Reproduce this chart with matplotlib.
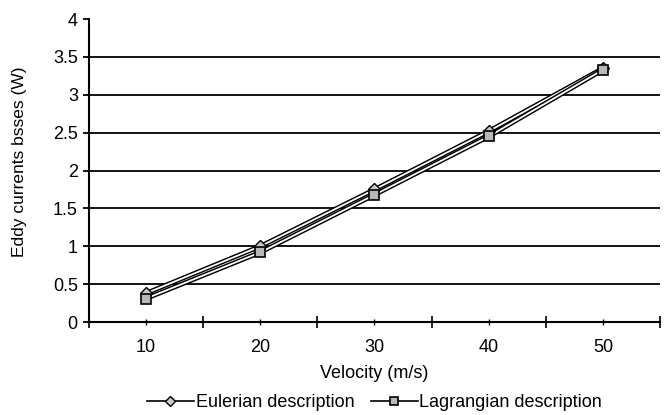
import numpy as np
import matplotlib.pyplot as plt
from matplotlib.lines import Line2D

plt.rcParams['font.family'] = ['Liberation Sans', 'DejaVu Sans']

# velocities (m/s) and eddy current losses (W)
velocity = ['10', '20', '30', '40', '50']
eulerian = [0.38, 1.00, 1.75, 2.52, 3.35]
lagrangian = [0.31, 0.92, 1.68, 2.45, 3.33]
y_ticks = [0, 0.5, 1, 1.5, 2, 2.5, 3, 3.5, 4]

fig = plt.figure(figsize=(6.64, 4.15), dpi=100)
ax = fig.add_axes([0.134, 0.224, 0.860, 0.730])

pos = np.arange(len(velocity))

# horizontal gridlines
for v in y_ticks[1:-1]:
    ax.axhline(v, color='black', linewidth=1.3, zorder=1)

# double-stroke lines: wide black line with a white line on top
for vals, z in [(eulerian, 3), (lagrangian, 4)]:
    ax.plot(pos, vals, color='black', linewidth=3.4, zorder=z,
            solid_capstyle='butt')
    ax.plot(pos, vals, color='white', linewidth=1.3, zorder=z,
            solid_capstyle='butt')

ax.plot(pos, eulerian, linestyle='none', marker='D', markersize=6,
        markerfacecolor='#c8c8c8', markeredgecolor='black',
        markeredgewidth=1, zorder=5)
ax.plot(pos, lagrangian, linestyle='none', marker='s', markersize=6.5,
        markerfacecolor='#b8b8b8', markeredgecolor='black',
        markeredgewidth=1.2, zorder=6)

ax.set_xlim(-0.5, len(velocity) - 0.5)
ax.set_ylim(0, 4)
ax.set_yticks(y_ticks)
ax.set_yticklabels(['0', '0.5', '1', '1.5', '2', '2.5', '3', '3.5', '4'])

# category ticks at centres, boundary ticks between them
ax.set_xticks(pos)
ax.set_xticklabels(velocity)
ax.set_xticks(np.arange(len(velocity) + 1) - 0.5, minor=True)
ax.tick_params(axis='x', which='major', direction='inout', length=5,
               width=1, labelsize=13, pad=10, colors='black')
ax.tick_params(axis='x', which='minor', direction='inout', length=8,
               width=1.2)
ax.tick_params(axis='y', direction='out', length=4, width=1.3,
               labelsize=13, pad=4)

for s in ['top', 'right']:
    ax.spines[s].set_visible(False)
for s in ['left', 'bottom']:
    ax.spines[s].set_linewidth(1.5)

ax.set_xlabel('Velocity (m/s)', fontsize=13, labelpad=6)
ax.set_ylabel('Eddy currents bsses (W)', fontsize=12.5)
ax.yaxis.set_label_coords(-0.108, 0.53)

handles = [
    Line2D([], [], color='black', linewidth=1.2, marker='D', markersize=5,
           markerfacecolor='#c8c8c8', markeredgecolor='black',
           markeredgewidth=1),
    Line2D([], [], color='black', linewidth=1.2, marker='s', markersize=5.5,
           markerfacecolor='#b8b8b8', markeredgecolor='black',
           markeredgewidth=1.2),
]
ax.legend(handles, ['Eulerian description', 'Lagrangian description'],
          loc='center', bbox_to_anchor=(0.5, -0.267), ncol=2,
          frameon=False, fontsize=13, handlelength=2.6,
          handletextpad=0.1, columnspacing=0.9, borderaxespad=0)

fig.savefig('out.png', dpi=100)
